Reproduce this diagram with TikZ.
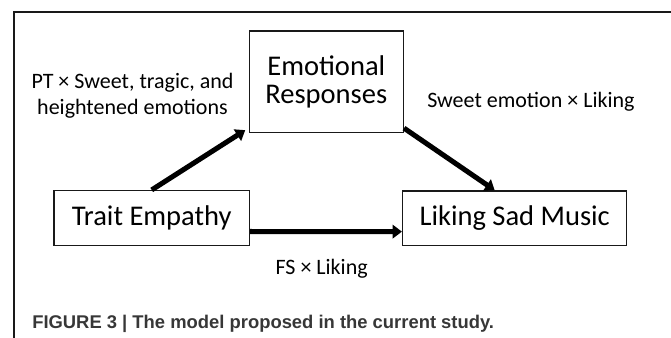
\documentclass[tikz,border=0pt]{standalone}
\usepackage{fontspec}
\setmainfont{Carlito}
\newfontfamily\capfont{Liberation Sans}
\usepackage{tikz}
\usetikzlibrary{arrows.meta, positioning}
\definecolor{mydark}{RGB}{25,25,25}
\definecolor{mygrey}{RGB}{55,55,55}
\tikzset{
  varbox/.style={rectangle, draw=mydark, fill=white, line width=1.1pt,
    align=center, inner sep=0pt,
    font=\fontsize{21.4}{21.4}\selectfont},
  pathlbl/.style={inner sep=0pt, align=center,
    font=\fontsize{16.5}{19.5}\selectfont},
  arrow/.style={-{Triangle[length=7pt,width=10pt]}, line width=3.8pt, color=black},
  frame/.style={draw=mydark, line width=1.6pt}
}
\begin{document}
\begin{tikzpicture}[x=0.75pt, y=-0.75pt]
  \useasboundingbox (0,0) rectangle (671,338);
  \clip (0,0) rectangle (671,338);
  % frame
  \draw[frame] (14,350) -- (14,12.3) -- (690,12.3);

  % variables
  \node[varbox, minimum width=115.5pt, minimum height=76.3pt] (emo) at (326.3,81.9) {Emotional\\Responses};
  \node[varbox, minimum width=146.5pt, minimum height=41.3pt] (trait) at (151.7,218.2) {Trait Empathy};
  \node[varbox, minimum width=168pt, minimum height=41pt] (liking) at (514.7,218.3) {Liking Sad Music};

  % paths
  \draw[arrow] (trait.north) -- ([xshift=-2.5pt, yshift=2.5pt]emo.south west);
  \draw[arrow] ([yshift=4pt]emo.south east) -- ([xshift=-15pt]liking.north);
  \draw[arrow] ([yshift=-10pt]trait.east) -- ([yshift=-10pt]liking.west);

  % path labels
  \node[pathlbl] (ptlbl) at (132.5,96) {PT × Sweet, tragic, and\\heightened emotions};
  \node[pathlbl, anchor=base west] (sweetlbl) at (427,108) {Sweet emotion × Liking};
  \node[pathlbl, anchor=base] (fslbl) at (321.7,275) {FS × Liking};

  % caption
  \node[anchor=base west, inner sep=0pt, color=mygrey,
    font=\capfont\bfseries\fontsize{13.8}{16}\selectfont] (cap) at (32,328.3)
    {FIGURE 3 | The model proposed in the current study.};
\end{tikzpicture}
\end{document}
